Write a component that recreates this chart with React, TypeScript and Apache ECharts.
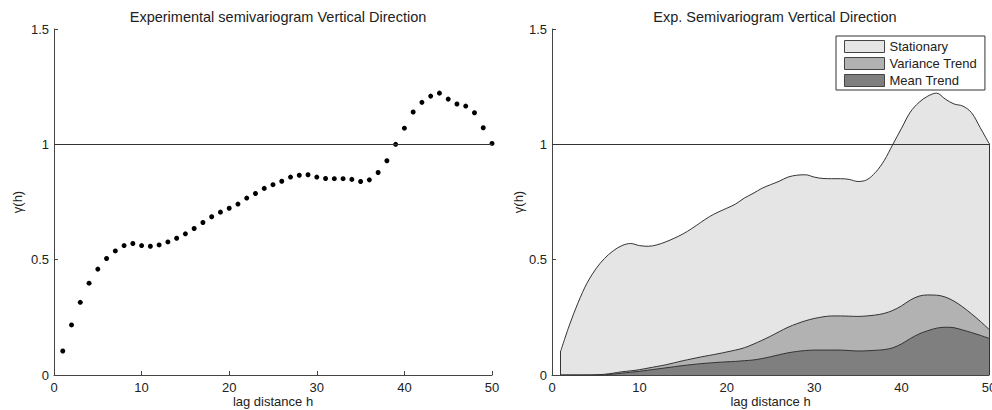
import React, { useEffect, useRef } from "react";
import * as echarts from "echarts";

const lags: number[] = Array.from({ length: 50 }, (_, i) => i + 1);

const gamma: number[] = [
  0.104, 0.217, 0.315, 0.398, 0.459, 0.505, 0.538, 0.561, 0.57, 0.561,
  0.558, 0.564, 0.577, 0.593, 0.612, 0.635, 0.661, 0.686, 0.706, 0.723,
  0.741, 0.767, 0.787, 0.809, 0.825, 0.84, 0.858, 0.866, 0.868, 0.858,
  0.852, 0.851, 0.851, 0.848, 0.839, 0.846, 0.878, 0.929, 1.0, 1.07,
  1.14, 1.182, 1.209, 1.222, 1.196, 1.175, 1.166, 1.137, 1.072, 1.004,
];

const varianceTrend: number[] = [
  0, 0, 0, 0, 0.001, 0.003, 0.008, 0.014, 0.018, 0.023,
  0.03, 0.037, 0.044, 0.053, 0.062, 0.07, 0.078, 0.085, 0.092, 0.1,
  0.108, 0.118, 0.133, 0.15, 0.168, 0.188, 0.207, 0.222, 0.235, 0.245,
  0.252, 0.256, 0.256, 0.255, 0.254, 0.256, 0.26, 0.267, 0.28, 0.3,
  0.325, 0.342, 0.347, 0.346, 0.338, 0.32, 0.295, 0.265, 0.233, 0.198,
];

const meanTrend: number[] = [
  0, 0, 0, 0, 0, 0.001, 0.004, 0.008, 0.012, 0.016,
  0.021, 0.026, 0.031, 0.036, 0.041, 0.045, 0.049, 0.052, 0.055, 0.057,
  0.059, 0.062, 0.065, 0.071, 0.079, 0.088, 0.096, 0.102, 0.106, 0.108,
  0.108, 0.108, 0.108, 0.106, 0.104, 0.105, 0.107, 0.11, 0.118, 0.135,
  0.158, 0.178, 0.192, 0.203, 0.207, 0.205, 0.195, 0.184, 0.172, 0.159,
];

const sillValue = 1;
const xTicks = { min: 0, max: 50, interval: 10 };
const yTicks = { min: 0, max: 1.5, interval: 0.5 };

const titles = ["Experimental semivariogram Vertical Direction", "Exp. Semivariogram Vertical Direction"];
const seriesNames = ["Stationary", "Variance Trend", "Mean Trend"];
const fills = ["#e5e5e5", "#b2b2b2", "#7f7f7f"];

const FONT = "Liberation Sans, Arial, Helvetica, sans-serif";
const TXT = "#222";
const AX = "#444";

function pairs(vals: number[]): number[][] {
  return lags.map((x, i) => [x, vals[i]]);
}

export default function App() {
  const ref = useRef<HTMLDivElement>(null);
  useEffect(() => {
    if (!ref.current) return;
    const chart = echarts.init(ref.current, undefined, { renderer: "svg" });

    const xAxisBase = (gridIndex: number) => ({
      type: "value" as const,
      gridIndex,
      min: xTicks.min,
      max: xTicks.max,
      interval: xTicks.interval,
      name: "lag distance h",
      nameLocation: "middle" as const,
      nameGap: 20,
      nameMoveOverlap: false,
      nameTextStyle: { fontFamily: FONT, fontSize: 13, color: TXT },
      axisLine: { show: true, onZero: false, lineStyle: { color: AX, width: 1 } },
      axisTick: { show: true, inside: true, length: 4, lineStyle: { color: AX } },
      axisLabel: { fontFamily: FONT, fontSize: 13, color: TXT, margin: 6 },
      splitLine: { show: false },
    });
    const yAxisBase = (gridIndex: number, gap: number) => ({
      type: "value" as const,
      gridIndex,
      min: yTicks.min,
      max: yTicks.max,
      interval: yTicks.interval,
      name: "γ(h)",
      nameLocation: "middle" as const,
      nameGap: gap,
      nameTextStyle: { fontFamily: FONT, fontSize: 13, color: TXT },
      axisLine: { show: true, onZero: false, lineStyle: { color: AX, width: 1 } },
      axisTick: { show: true, inside: true, length: 4, lineStyle: { color: AX } },
      axisLabel: { fontFamily: FONT, fontSize: 13, color: TXT, margin: 5 },
      splitLine: { show: false },
    });

    const sillLine = {
      silent: true,
      symbol: "none",
      label: { show: false },
      lineStyle: { color: "#333", width: 1, type: "solid" as const },
      data: [[{ coord: [xTicks.min, sillValue] }, { coord: [xTicks.max, sillValue] }]],
    };

    const edgeLines = (vals: number[]) => ({
      silent: true,
      symbol: "none",
      label: { show: false },
      lineStyle: { color: "#333", width: 1, type: "solid" as const },
      data: [
        [{ coord: [lags[0], 0] }, { coord: [lags[0], vals[0]] }],
        [{ coord: [lags[lags.length - 1], 0] }, { coord: [lags[lags.length - 1], vals[vals.length - 1]] }],
      ],
    });

    const areaSeries = (name: string, vals: number[], fill: string, z: number) => ({
      name,
      type: "line" as const,
      xAxisIndex: 1,
      yAxisIndex: 1,
      data: pairs(vals),
      smooth: 0.35,
      showSymbol: false,
      symbol: "none",
      z,
      itemStyle: { color: fill },
      lineStyle: { color: "#333", width: 1 },
      areaStyle: { color: fill, opacity: 1 },
      markLine: edgeLines(vals),
    });

    chart.setOption({
      animation: false,
      backgroundColor: "#fff",
      title: [
        {
          text: titles[0],
          left: 273,
          top: 4,
          textAlign: "center",
          textStyle: { fontFamily: FONT, fontSize: 14.5, fontWeight: "normal", color: TXT },
        },
        {
          text: titles[1],
          left: 770,
          top: 4,
          textAlign: "center",
          textStyle: { fontFamily: FONT, fontSize: 14.5, fontWeight: "normal", color: TXT },
        },
      ],
      grid: [
        { left: 54, right: 500, top: 29, bottom: 35, outerBoundsMode: "none", containLabel: false },
        { left: 552, right: 3, top: 29, bottom: 35, outerBoundsMode: "none", containLabel: false },
      ],
      xAxis: [xAxisBase(0), xAxisBase(1)],
      yAxis: [yAxisBase(0, 30), yAxisBase(1, 27)],
      legend: {
        orient: "vertical",
        left: 836,
        top: 36,
        icon: "rect",
        itemWidth: 40,
        itemHeight: 12,
        itemGap: 4,
        padding: [4, 8, 3, 8],
        borderColor: "#333",
        borderWidth: 1,
        backgroundColor: "#fff",
        selectedMode: false,
        textStyle: { fontFamily: FONT, fontSize: 13, color: TXT },
        data: seriesNames.map((n, i) => ({
          name: n,
          itemStyle: { color: fills[i], borderColor: "#444", borderWidth: 1 },
        })),
      },
      series: [
        {
          name: "semivariogram",
          type: "scatter",
          xAxisIndex: 0,
          yAxisIndex: 0,
          data: pairs(gamma),
          symbol: "circle",
          symbolSize: 5,
          itemStyle: { color: "#000", opacity: 1 },
          markLine: sillLine,
        },
        areaSeries(seriesNames[0], gamma, fills[0], 2),
        areaSeries(seriesNames[1], varianceTrend, fills[1], 3),
        areaSeries(seriesNames[2], meanTrend, fills[2], 4),
        {
          name: "sill",
          type: "line",
          xAxisIndex: 1,
          yAxisIndex: 1,
          data: [],
          z: 5,
          markLine: sillLine,
        },
      ],
    });
    return () => chart.dispose();
  }, []);

  return (
    <div
      ref={ref}
      style={{ position: "absolute", left: 0, top: 0, width: 992, height: 410 }}
    />
  );
}
